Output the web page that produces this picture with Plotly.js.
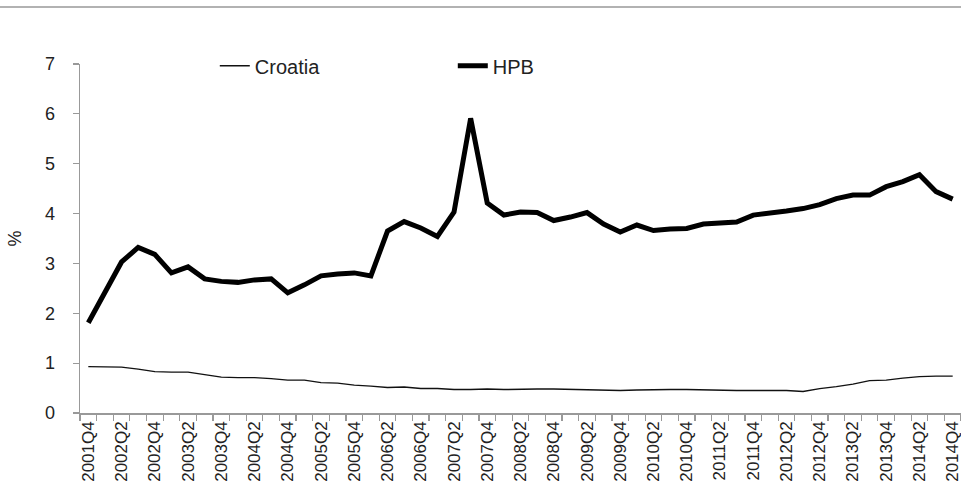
<!DOCTYPE html>
<html>
<head>
<meta charset="utf-8">
<script src="https://cdn.plot.ly/plotly-3.0.1.min.js"></script>
<style>html,body{margin:0;padding:0;background:#fff;}#chart{width:961px;height:485px;}</style>
</head>
<body>
<div id="chart"></div>
<script>
const quarters = [
  "2001Q4",
  "2002Q1","2002Q2","2002Q3","2002Q4",
  "2003Q1","2003Q2","2003Q3","2003Q4",
  "2004Q1","2004Q2","2004Q3","2004Q4",
  "2005Q1","2005Q2","2005Q3","2005Q4",
  "2006Q1","2006Q2","2006Q3","2006Q4",
  "2007Q1","2007Q2","2007Q3","2007Q4",
  "2008Q1","2008Q2","2008Q3","2008Q4",
  "2009Q1","2009Q2","2009Q3","2009Q4",
  "2010Q1","2010Q2","2010Q3","2010Q4",
  "2011Q1","2011Q2","2011Q3","2011Q4",
  "2012Q1","2012Q2","2012Q3","2012Q4",
  "2013Q1","2013Q2","2013Q3","2013Q4",
  "2014Q1","2014Q2","2014Q3","2014Q4"
];
const croatia = [
  0.93,
  0.93,0.92,0.88,0.83,
  0.82,0.82,0.77,0.72,
  0.71,0.71,0.69,0.66,
  0.66,0.61,0.60,0.56,
  0.54,0.51,0.52,0.49,
  0.49,0.47,0.47,0.48,
  0.47,0.48,0.48,0.48,
  0.47,0.46,0.45,0.45,
  0.46,0.47,0.47,0.47,
  0.46,0.45,0.45,0.45,
  0.45,0.45,0.43,0.49,
  0.53,0.58,0.65,0.66,
  0.70,0.73,0.74,0.74
];
const hpb = [
  1.81,
  2.42,3.03,3.32,3.18,
  2.81,2.93,2.69,2.64,
  2.62,2.67,2.69,2.41,
  2.57,2.75,2.79,2.81,
  2.75,3.65,3.84,3.71,
  3.54,4.03,5.91,4.21,
  3.97,4.03,4.02,3.86,
  3.93,4.02,3.79,3.63,
  3.77,3.66,3.69,3.70,
  3.79,3.81,3.83,3.97,
  4.00,4.05,4.10,4.18,
  4.30,4.37,4.37,4.54,
  4.64,4.78,4.44,4.29
];
const seriesNames = ["Croatia", "HPB"];
const yTicks = [0,1,2,3,4,5,6,7];

const tickText = quarters.map((q, i) => (i % 2 === 0 ? q : ""));

const traces = [
  {x: quarters, y: croatia, name: seriesNames[0], type: "scatter", mode: "lines",
   line: {color: "#111", width: 1.4}},
  {x: quarters, y: hpb, name: seriesNames[1], type: "scatter", mode: "lines",
   line: {color: "#000", width: 5}}
];

const layout = {
  width: 961, height: 485,
  margin: {l: 80, r: 0, t: 64, b: 72},
  paper_bgcolor: "#fff", plot_bgcolor: "#fff",
  font: {family: "Liberation Sans, Arial, sans-serif", color: "#222"},
  showlegend: true,
  legend: {orientation: "h", x: 0.153, xanchor: "left", y: 0.995, yanchor: "middle",
           font: {size: 20, color: "#222"}, bgcolor: "rgba(0,0,0,0)",
           entrywidth: 193, entrywidthmode: "pixels", traceorder: "normal"},
  xaxis: {
    type: "category",
    range: [-0.5, quarters.length - 0.5],
    tickmode: "array", tickvals: quarters, ticktext: tickText,
    tickson: "boundaries",
    ticks: "outside", ticklen: 6, tickcolor: "#999", tickwidth: 1.2,
    tickangle: -90, tickfont: {size: 17, color: "#222"},
    showline: true, linecolor: "#999", linewidth: 1.5,
    showgrid: false, zeroline: false, fixedrange: true
  },
  yaxis: {
    range: [0, 7],
    tickmode: "array", tickvals: yTicks,
    ticks: "outside", ticklen: 6, tickcolor: "#999", tickwidth: 1.2,
    ticklabelstandoff: 14,
    tickfont: {size: 18, color: "#222"},
    showline: true, linecolor: "#999", linewidth: 1.5,
    showgrid: false, zeroline: false, fixedrange: true,
    title: {text: "%", font: {size: 18, color: "#222"}, standoff: 18}
  },
  shapes: [
    {type: "line", xref: "paper", yref: "paper", x0: -0.1, x1: 1.01, y0: 1.163, y1: 1.163,
     line: {color: "#999", width: 1.5}}
  ]
};

Plotly.newPlot("chart", traces, layout, {displayModeBar: false, staticPlot: true});
</script>
</body>
</html>
